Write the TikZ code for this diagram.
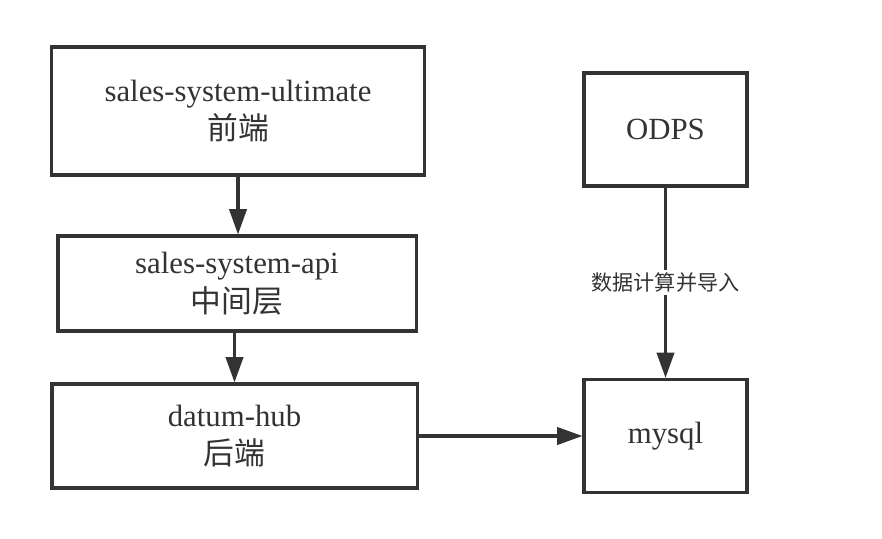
\documentclass[tikz,border=0pt]{standalone}
\usepackage{fontspec}
\setmainfont{Liberation Serif}
\newfontfamily\cjk{Noto Sans CJK SC}
\usetikzlibrary{arrows.meta}
\definecolor{ink}{HTML}{333333}
\begin{document}
\begin{tikzpicture}[x=0.025cm, y=-0.025cm,
    box/.style={draw=ink, line width=2.2pt, inner sep=0pt, align=center,
        text=ink, font=\fontsize{21.9pt}{27.5pt}\selectfont},
    flow/.style={draw=ink, line width=2.2pt, -{Triangle[length=6.3mm, width=4.3mm]}}]
    \useasboundingbox (0,0) rectangle (882,539);
    % left column
    \node[box, minimum width=93mm, minimum height=32mm] (ult) at (238,111)
        {sales-system-ultimate\\{\cjk 前端}};
    \node[box, minimum width=89.5mm, minimum height=23.75mm] (api) at (237,283.5)
        {sales-system-api\\{\cjk 中间层}};
    \node[box, minimum width=91.25mm, minimum height=26mm] (hub) at (234.5,436)
        {datum-hub\\{\cjk 后端}};
    % right column
    \node[box, minimum width=40.75mm, minimum height=28.25mm] (odps) at (665.5,129.5) {ODPS};
    \node[box, minimum width=40.75mm, minimum height=28.25mm] (mysql) at (665.5,436) {mysql};
    % connectors
    \draw[flow] (ult.south) -- (ult.south |- api.north);
    \draw[flow] (hub.north |- api.south) -- (hub.north);
    \draw[flow] (hub.east) -- (hub.east -| mysql.west);
    \draw[flow] (odps.south) -- (mysql.north)
        node[midway, fill=white, inner sep=2pt, text=ink,
            font=\cjk\fontsize{15pt}{18pt}\selectfont] (load) {数据计算并导入};
\end{tikzpicture}
\end{document}
